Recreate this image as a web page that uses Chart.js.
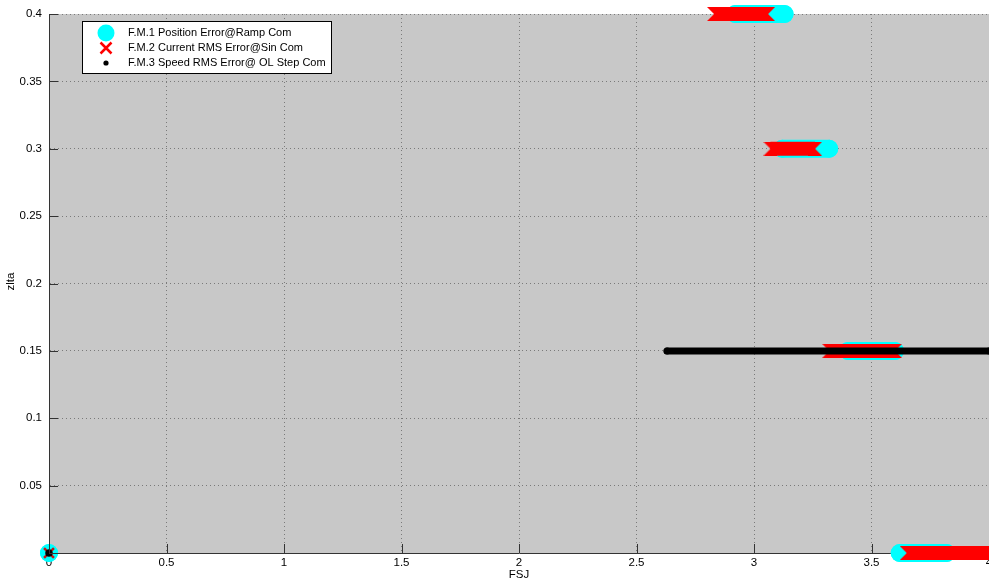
<!DOCTYPE html>
<html>
<head>
<meta charset="utf-8">
<script src="https://cdn.jsdelivr.net/npm/chart.js@4/dist/chart.umd.min.js"></script>
<style>
  html, body { margin: 0; padding: 0; background: #ffffff; }
  #wrap { width: 989px; height: 583px; position: relative; }
</style>
</head>
<body>
<div id="wrap"><canvas id="c" width="989" height="583"></canvas></div>
<script>
// Axis ticks
const xTicks = [0, 0.5, 1, 1.5, 2, 2.5, 3, 3.5, 4];
const yTicks = [0, 0.05, 0.1, 0.15, 0.2, 0.25, 0.3, 0.35, 0.4];

// Series labels
const seriesNames = [
  'F.M.1 Position Error@Ramp Com',
  'F.M.2 Current RMS Error@Sin Com',
  'F.M.3 Speed RMS Error@ OL Step Com'
];

// F.M.1: runs of markers along FSJ at each zlta level (start, end)
const fm1Zlta = [0, 0.4, 0.3, 0.15, 0];
const fm1From = [0, 2.92, 3.12, 3.40, 3.62];
const fm1To   = [0, 3.13, 3.32, 3.60, 3.82];

// F.M.2
const fm2Zlta = [0, 0.4, 0.3, 0.15, 0];
const fm2From = [0, 2.83, 3.07, 3.32, 3.65];
const fm2To   = [0, 3.06, 3.26, 3.60, 4.0];

// F.M.3
const fm3Zlta = [0, 0.15];
const fm3From = [0, 2.63];
const fm3To   = [0, 4.0];

// Each run becomes a start point, an end point and a gap.
function runs(zlta, from, to) {
  const pts = [];
  for (let i = 0; i < zlta.length; i++) {
    if (to[i] !== from[i]) {
      pts.push({ x: from[i], y: zlta[i], edge: 'L' });
      pts.push({ x: to[i], y: zlta[i], edge: 'R' });
    } else {
      pts.push({ x: from[i], y: zlta[i], edge: 'S' });
    }
    pts.push({ x: to[i], y: null });
  }
  return pts;
}

const CYAN = '#00ffff';
const RED = '#ff0000';
const BLACK = '#000000';
const AXIS = '#333333';
const FONT = '"Liberation Sans", Arial, Helvetica, sans-serif';

// Swallowtail end caps: a run of packed crosses ends in a notched edge.
function notchCap(side, size, color) {
  const c = document.createElement('canvas');
  c.width = size; c.height = size;
  const g = c.getContext('2d');
  g.fillStyle = color;
  g.beginPath();
  if (side === 'L') {
    g.moveTo(0, 0); g.lineTo(size, 0); g.lineTo(size, size); g.lineTo(0, size); g.lineTo(size / 2, size / 2);
  } else {
    g.moveTo(0, 0); g.lineTo(size, 0); g.lineTo(size / 2, size / 2); g.lineTo(size, size); g.lineTo(0, size);
  }
  g.closePath();
  g.fill();
  return c;
}
const capL = notchCap('L', 14, RED);
const capR = notchCap('R', 14, RED);

const frame = {
  id: 'frame',
  beforeDraw(chart) {
    const { ctx, chartArea: a } = chart;
    ctx.save();
    ctx.fillStyle = '#ffffff';
    ctx.fillRect(0, 0, chart.width, chart.height);
    ctx.fillStyle = '#c8c8c8';
    ctx.fillRect(a.left, a.top, a.right - a.left, a.bottom - a.top);
    ctx.restore();
  },
  afterDraw(chart) {
    const { ctx, chartArea: a, scales } = chart;
    ctx.save();
    // inward tick marks
    ctx.strokeStyle = AXIS;
    ctx.lineWidth = 1;
    ctx.beginPath();
    xTicks.forEach(v => {
      const px = Math.round(scales.x.getPixelForValue(v)) + 0.5;
      ctx.moveTo(px, a.bottom);
      ctx.lineTo(px, a.bottom - 9);
    });
    yTicks.forEach(v => {
      const py = Math.round(scales.y.getPixelForValue(v)) + 0.5;
      ctx.moveTo(a.left, py);
      ctx.lineTo(a.left + 9, py);
    });
    ctx.stroke();

    // axis titles
    ctx.fillStyle = '#000000';
    ctx.font = '11.5px ' + FONT;
    ctx.textAlign = 'center';
    ctx.textBaseline = 'middle';
    ctx.fillText('FSJ', (a.left + a.right) / 2, 575);
    ctx.save();
    ctx.translate(11, (a.top + a.bottom) / 2 - 2);
    ctx.rotate(-Math.PI / 2);
    ctx.fillText('zlta', 0, 0);
    ctx.restore();

    // legend box
    const bx = 82, by = 21, bw = 249, bh = 52;
    ctx.fillStyle = '#ffffff';
    ctx.fillRect(bx, by, bw, bh);
    ctx.strokeStyle = '#000000';
    ctx.lineWidth = 1;
    ctx.strokeRect(bx + 0.5, by + 0.5, bw, bh);
    const rows = [33, 48, 63];
    const mx = 106;
    ctx.fillStyle = CYAN;
    ctx.beginPath();
    ctx.arc(mx, rows[0], 8.5, 0, Math.PI * 2);
    ctx.fill();
    ctx.strokeStyle = RED;
    ctx.lineWidth = 2.5;
    ctx.beginPath();
    ctx.moveTo(mx - 5.5, rows[1] - 5.5); ctx.lineTo(mx + 5.5, rows[1] + 5.5);
    ctx.moveTo(mx - 5.5, rows[1] + 5.5); ctx.lineTo(mx + 5.5, rows[1] - 5.5);
    ctx.stroke();
    ctx.fillStyle = BLACK;
    ctx.beginPath();
    ctx.arc(mx, rows[2], 2.6, 0, Math.PI * 2);
    ctx.fill();
    ctx.fillStyle = '#000000';
    ctx.font = '11px ' + FONT;
    ctx.textAlign = 'left';
    ctx.textBaseline = 'middle';
    seriesNames.forEach((n, i) => ctx.fillText(n, 128, rows[i]));
    ctx.restore();
  }
};

new Chart(document.getElementById('c'), {
  type: 'scatter',
  data: {
    datasets: [
      {
        label: seriesNames[0],
        data: runs(fm1Zlta, fm1From, fm1To),
        showLine: true,
        spanGaps: false,
        borderColor: CYAN,
        backgroundColor: CYAN,
        borderWidth: 18,
        borderCapStyle: 'round',
        pointStyle: 'circle',
        pointRadius: 9,
        pointBorderWidth: 0,
        pointBackgroundColor: CYAN,
        clip: false,
        order: 3
      },
      {
        label: seriesNames[1],
        data: runs(fm2Zlta, fm2From, fm2To),
        showLine: true,
        spanGaps: false,
        borderColor: RED,
        backgroundColor: RED,
        borderWidth: 14,
        borderCapStyle: 'butt',
        pointStyle: ctx => {
          const e = ctx.raw && ctx.raw.edge;
          return e === 'L' ? capL : e === 'R' ? capR : 'crossRot';
        },
        pointRadius: 7,
        pointBorderWidth: 2.5,
        pointBorderColor: '#c01818',
        clip: false,
        order: 2
      },
      {
        label: seriesNames[2],
        data: runs(fm3Zlta, fm3From, fm3To),
        showLine: true,
        spanGaps: false,
        borderColor: BLACK,
        backgroundColor: BLACK,
        borderWidth: 7,
        borderCapStyle: 'round',
        pointStyle: 'circle',
        pointRadius: 3.5,
        pointBorderWidth: 0,
        pointBackgroundColor: BLACK,
        clip: false,
        order: 1
      }
    ]
  },
  options: {
    responsive: false,
    animation: false,
    devicePixelRatio: 1,
    layout: { autoPadding: false, padding: { top: 14, right: 0, left: 0, bottom: 0 } },
    plugins: {
      legend: { display: false },
      tooltip: { enabled: false }
    },
    scales: {
      x: {
        type: 'linear',
        min: 0,
        max: 4,
        afterBuildTicks(scale) { scale.ticks = xTicks.map(v => ({ value: v })); },
        afterFit(scale) { scale.height = 30; scale.paddingLeft = 0; scale.paddingRight = 0; },
        ticks: {
          maxRotation: 0,
          autoSkip: false,
          padding: 3,
          color: '#000000',
          font: { family: FONT, size: 11.5 },
          callback: v => String(v)
        },
        grid: { color: '#7a7a7a', lineWidth: 1, drawTicks: false },
        border: { display: true, color: AXIS, width: 1, dash: [1, 3] }
      },
      y: {
        type: 'linear',
        min: 0,
        max: 0.4,
        afterBuildTicks(scale) { scale.ticks = yTicks.map(v => ({ value: v })); },
        afterFit(scale) { scale.width = 49; scale.paddingTop = 0; scale.paddingBottom = 0; },
        ticks: {
          autoSkip: false,
          padding: 7,
          color: '#000000',
          font: { family: FONT, size: 11.5 },
          callback: v => (v === 0 ? '' : String(v))
        },
        grid: { color: '#7a7a7a', lineWidth: 1, drawTicks: false },
        border: { display: true, color: AXIS, width: 1, dash: [1, 3] }
      }
    }
  },
  plugins: [frame]
});
</script>
</body>
</html>
